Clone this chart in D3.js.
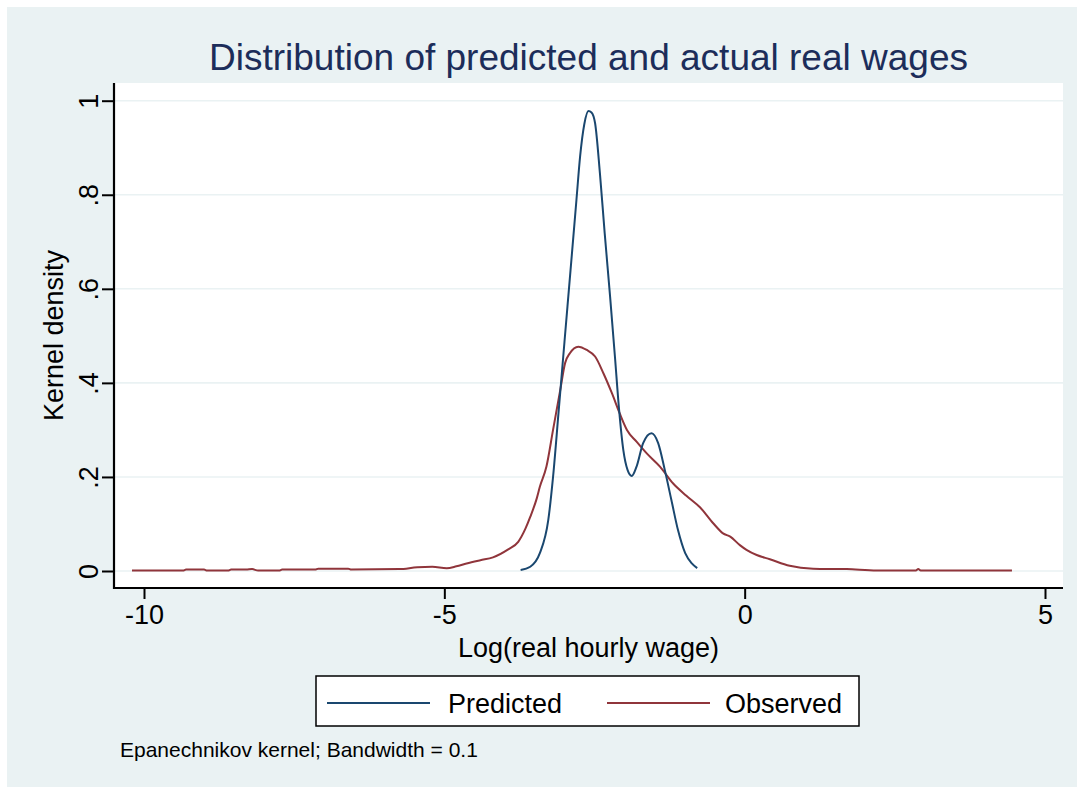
<!DOCTYPE html>
<html>
<head>
<meta charset="utf-8">
<script src="https://cdn.jsdelivr.net/npm/d3@7"></script>
<style>
  html, body { margin: 0; padding: 0; background: #ffffff; }
  svg { display: block; font-family: "Liberation Sans", Arial, sans-serif; }
</style>
</head>
<body>
<svg id="chart" width="1077" height="787"></svg>
<script>
// ---- Data ----
const chartTitle = "Distribution of predicted and actual real wages";
const xTitle = "Log(real hourly wage)";
const yTitle = "Kernel density";
const noteText = "Epanechnikov kernel; Bandwidth = 0.1";
const seriesNames = ["Predicted", "Observed"];
const xTicks = [-10, -5, 0, 5];
const xTickLabels = ["-10", "-5", "0", "5"];
const yTicks = [0, 0.2, 0.4, 0.6, 0.8, 1];
const yTickLabels = ["0", ".2", ".4", ".6", ".8", "1"];

const predictedX = [-3.73, -3.57, -3.41, -3.27, -3.19, -3.10, -3.00, -2.90, -2.80, -2.74, -2.67, -2.60, -2.55, -2.49, -2.41, -2.33, -2.24, -2.16, -2.09, -2.02, -1.95, -1.88, -1.80, -1.69, -1.55, -1.44, -1.33, -1.22, -1.11, -0.99, -0.88, -0.79];
const predictedY = [0.002, 0.009, 0.038, 0.108, 0.200, 0.335, 0.487, 0.638, 0.790, 0.881, 0.950, 0.978, 0.975, 0.952, 0.846, 0.718, 0.583, 0.456, 0.342, 0.257, 0.215, 0.202, 0.222, 0.272, 0.293, 0.272, 0.215, 0.151, 0.087, 0.038, 0.016, 0.006];

const observedX = [-10.2, -9.35, -9.3, -9.0, -8.95, -8.6, -8.55, -8.3, -8.2, -8.1, -7.75, -7.7, -7.15, -7.1, -6.6, -6.55, -5.75, -5.45, -5.2, -4.96, -4.8, -4.63, -4.4, -4.19, -3.95, -3.77, -3.65, -3.57, -3.46, -3.41, -3.30, -3.19, -3.07, -2.99, -2.91, -2.77, -2.63, -2.49, -2.35, -2.21, -2.08, -1.96, -1.80, -1.63, -1.41, -1.19, -0.97, -0.74, -0.52, -0.36, -0.24, -0.08, 0.03, 0.20, 0.42, 0.75, 1.14, 1.70, 2.20, 2.85, 2.89, 2.93, 4.45];
const observedY = [0.001, 0.001, 0.003, 0.003, 0.001, 0.001, 0.003, 0.003, 0.004, 0.001, 0.001, 0.003, 0.003, 0.005, 0.005, 0.003, 0.004, 0.008, 0.009, 0.006, 0.010, 0.016, 0.023, 0.029, 0.045, 0.062, 0.090, 0.115, 0.155, 0.179, 0.222, 0.300, 0.385, 0.442, 0.463, 0.477, 0.470, 0.456, 0.420, 0.378, 0.335, 0.300, 0.275, 0.250, 0.222, 0.186, 0.160, 0.135, 0.101, 0.080, 0.073, 0.055, 0.045, 0.034, 0.025, 0.011, 0.005, 0.004, 0.001, 0.001, 0.004, 0.001, 0.001];

const colors = ["#1a476f", "#90353b"];

// ---- Layout ----
const W = 1077, H = 787;
const svg = d3.select("#chart");
const plotL = 114, plotR = 1063, plotT = 83, plotB = 588;

// graph region background
svg.append("rect").attr("x", 7).attr("y", 7).attr("width", W - 7).attr("height", H - 7).attr("fill", "#eaf2f3");
// plot region
svg.append("rect").attr("x", plotL).attr("y", plotT).attr("width", plotR - plotL).attr("height", plotB - plotT).attr("fill", "#ffffff");

const x = d3.scaleLinear().domain([-10, 5]).range([144, 1045]);
const y = d3.scaleLinear().domain([0, 1]).range([571, 100.7]);

// gridlines
svg.append("g").selectAll("line").data(yTicks).join("line")
  .attr("x1", plotL + 1).attr("x2", plotR)
  .attr("y1", d => y(d)).attr("y2", d => y(d))
  .attr("stroke", "#eaf2f3").attr("stroke-width", 1.6);

// series
const line = d3.line().x(d => x(d[0])).y(d => y(d[1])).curve(d3.curveMonotoneX);
const predicted = predictedX.map((v, i) => [v, predictedY[i]]);
const observed = observedX.map((v, i) => [v, observedY[i]]);
svg.append("path").datum(observed).attr("d", line).attr("fill", "none").attr("stroke", colors[1]).attr("stroke-width", 2);
svg.append("path").datum(predicted).attr("d", line).attr("fill", "none").attr("stroke", colors[0]).attr("stroke-width", 2);

// axes
const xAxis = d3.axisBottom(x).tickValues(xTicks).tickSize(11).tickPadding(4).tickFormat((d, i) => xTickLabels[i]);
const gx = svg.append("g").attr("transform", `translate(0,${plotB})`).call(xAxis);
gx.select(".domain").remove();
gx.selectAll(".tick line").attr("stroke", "#000").attr("stroke-width", 2);
gx.selectAll(".tick text").attr("font-size", 27).attr("fill", "#000")
  .attr("font-family", "Liberation Sans, Arial, sans-serif").attr("dy", "0.78em");

const yAxis = d3.axisLeft(y).tickValues(yTicks).tickSize(12).tickFormat((d, i) => yTickLabels[i]);
const gy = svg.append("g").attr("transform", `translate(${plotL},0)`).call(yAxis);
gy.select(".domain").remove();
gy.selectAll(".tick line").attr("stroke", "#000").attr("stroke-width", 2);
gy.selectAll(".tick text").attr("font-size", 27).attr("fill", "#000")
  .attr("font-family", "Liberation Sans, Arial, sans-serif")
  .attr("x", null).attr("dy", null)
  .attr("text-anchor", "middle")
  .attr("transform", "translate(-16,0) rotate(-90)");

// axis lines
svg.append("line").attr("x1", plotL).attr("x2", plotL).attr("y1", plotT).attr("y2", plotB + 1)
  .attr("stroke", "#000").attr("stroke-width", 2.2);
svg.append("line").attr("x1", plotL - 1).attr("x2", plotR).attr("y1", plotB).attr("y2", plotB)
  .attr("stroke", "#000").attr("stroke-width", 2.2);

// titles
svg.append("text").attr("x", (plotL + plotR) / 2).attr("y", 70).attr("text-anchor", "middle")
  .attr("font-size", 37).attr("fill", "#1c2d5a").text(chartTitle);
svg.append("text").attr("x", (plotL + plotR) / 2).attr("y", 657).attr("text-anchor", "middle")
  .attr("font-size", 27).attr("fill", "#000").text(xTitle);
svg.append("text").attr("transform", `translate(63,${(plotT + plotB) / 2}) rotate(-90)`)
  .attr("text-anchor", "middle").attr("font-size", 27).attr("fill", "#000").text(yTitle);

// legend
const lg = svg.append("g");
lg.append("rect").attr("x", 316).attr("y", 676).attr("width", 543).attr("height", 50)
  .attr("fill", "#fff").attr("stroke", "#000").attr("stroke-width", 1.5);
const legendItems = [
  { name: seriesNames[0], color: colors[0], x1: 327, x2: 430, tx: 448 },
  { name: seriesNames[1], color: colors[1], x1: 607, x2: 710, tx: 725 }
];
legendItems.forEach(it => {
  lg.append("line").attr("x1", it.x1).attr("x2", it.x2).attr("y1", 703).attr("y2", 703)
    .attr("stroke", it.color).attr("stroke-width", 2);
  lg.append("text").attr("x", it.tx).attr("y", 713).attr("font-size", 27).attr("fill", "#000").text(it.name);
});

// note
svg.append("text").attr("x", 120).attr("y", 757).attr("font-size", 21).attr("fill", "#000").text(noteText);
</script>
</body>
</html>
